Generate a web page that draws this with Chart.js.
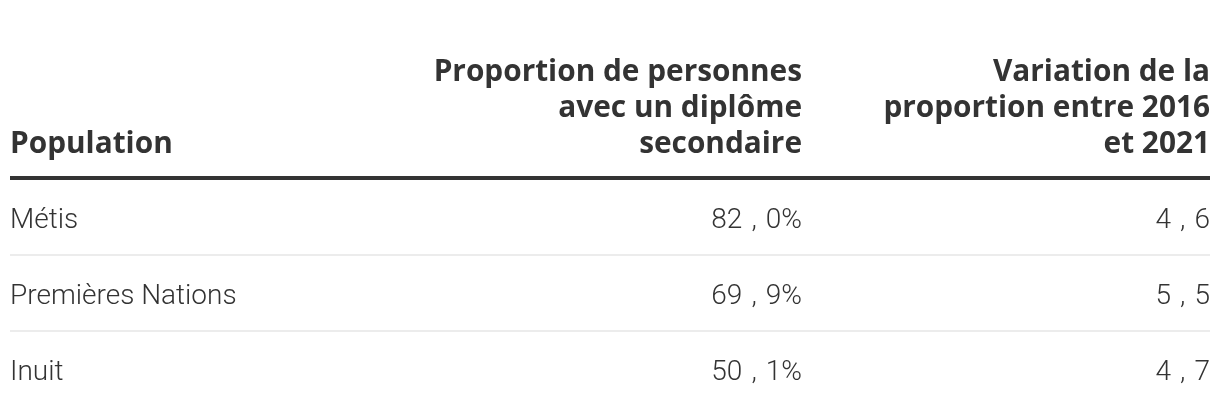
<!DOCTYPE html>
<html>
<head>
<meta charset="utf-8">
<script src="https://cdn.jsdelivr.net/npm/chart.js@4"></script>
<style>
  html, body { margin: 0; padding: 0; background: #fff; }
  #wrap { width: 1220px; height: 416px; }
</style>
</head>
<body>
<div id="wrap"><canvas id="tableChart"></canvas></div>
<script>
const populations = ['Métis', 'Premières Nations', 'Inuit'];
const shares = [82.0, 69.9, 50.1];
const changes = [4.6, 5.5, 4.7];
const headers = [
  ['Population'],
  ['Proportion de personnes', 'avec un diplôme', 'secondaire'],
  ['Variation de la', 'proportion entre 2016', 'et 2021']
];

const headFont = 'bold 29.8px "Open Sans"';
const bodyFont = '300 28px Roboto';
const ink = '#333333';

// draws "82,0%" right-aligned, with the wide comma spacing of the original
function drawNumber(ctx, v, pct, xRight, by) {
  const parts = v.toFixed(1).split('.');
  const tail = parts[1] + (pct ? '%' : '');
  const gap = 9;
  ctx.textAlign = 'right';
  let x = xRight;
  ctx.fillText(tail, x, by);
  x -= ctx.measureText(tail).width + gap;
  ctx.fillText(',', x, by);
  x -= ctx.measureText(',').width + gap;
  ctx.fillText(parts[0], x, by);
}

const tablePlugin = {
  id: 'tablePlugin',
  afterDraw(chart) {
    const ctx = chart.ctx;
    const area = chart.chartArea;
    const y = chart.scales.y;
    const left = area.left;
    const right = area.right;
    const colRight = [null, left + (right - left) * 0.66, right];

    ctx.save();
    // header
    ctx.fillStyle = ink;
    ctx.font = headFont;
    ctx.textBaseline = 'alphabetic';
    const lastBase = area.top - 26;
    headers.forEach((lines, c) => {
      lines.forEach((ln, k) => {
        const by = lastBase - (lines.length - 1 - k) * 36;
        if (c === 0) {
          ctx.textAlign = 'left';
          ctx.fillText(ln, left, by);
        } else {
          ctx.textAlign = 'right';
          ctx.fillText(ln, colRight[c], by);
        }
      });
    });
    ctx.fillRect(left, area.top - 3, right - left, 4);

    // row separators
    ctx.fillStyle = '#ececec';
    for (let i = 0; i < populations.length - 1; i++) {
      const yy = (y.getPixelForValue(i) + y.getPixelForValue(i + 1)) / 2;
      ctx.fillRect(left, Math.round(yy) - 1, right - left, 2);
    }

    // cells
    ctx.fillStyle = ink;
    ctx.font = bodyFont;
    populations.forEach((p, i) => {
      const by = y.getPixelForValue(i) + 11;
      ctx.textAlign = 'left';
      ctx.fillText(p, left, by);
      drawNumber(ctx, shares[i], true, colRight[1], by);
      drawNumber(ctx, changes[i], false, colRight[2], by);
    });
    ctx.restore();
  }
};

new Chart(document.getElementById('tableChart'), {
  type: 'bar',
  data: {
    labels: populations,
    datasets: [{ label: 'Proportion', data: shares, backgroundColor: 'rgba(0,0,0,0)' }]
  },
  options: {
    indexAxis: 'y',
    responsive: true,
    maintainAspectRatio: false,
    animation: false,
    layout: { padding: { top: 179, left: 10, right: 10, bottom: 9 } },
    plugins: { legend: { display: false }, tooltip: { enabled: false } },
    scales: {
      x: { display: false, min: 0, max: 100 },
      y: { display: false }
    }
  },
  plugins: [tablePlugin]
});
</script>
</body>
</html>
